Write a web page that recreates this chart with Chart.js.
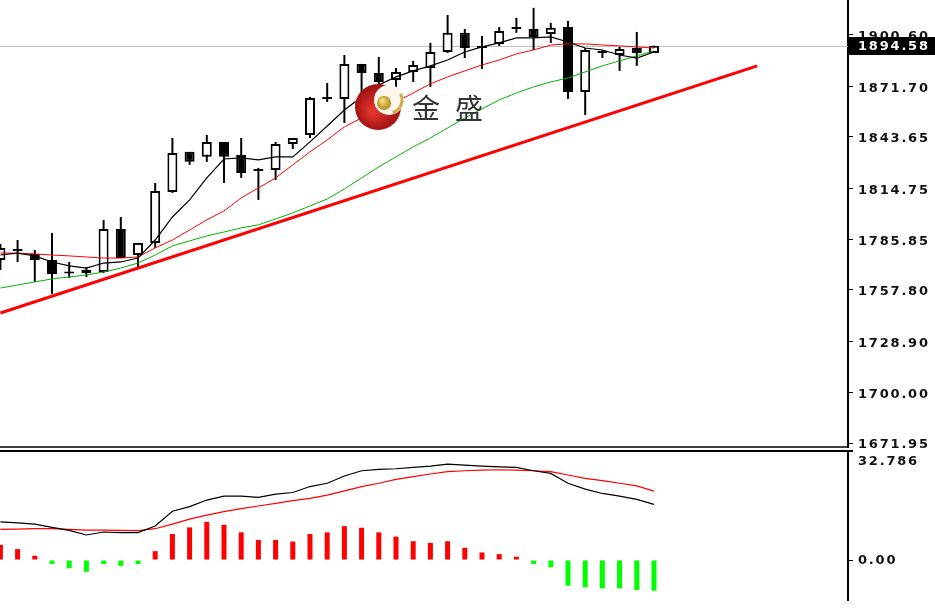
<!DOCTYPE html>
<html>
<head>
<meta charset="utf-8">
<script src="https://cdn.jsdelivr.net/npm/chart.js@4.4.1/dist/chart.umd.min.js"></script>
<style>
  html, body { margin: 0; padding: 0; background: #fff; overflow: hidden; }
  #main { position: absolute; left: 0; top: 0; }
  #sub { position: absolute; left: 0; top: 448px; }
</style>
</head>
<body>
<canvas id="main" width="935" height="448"></canvas>
<canvas id="sub" width="935" height="163"></canvas>
<script>
// daily candles, oldest first
const openP  = [1774.5,1780.1,1777.9,1774.5,1767.2,1767.2,1767.8,1791.9,1777.3,1784.1,
                1812.6,1835.1,1832.3,1840.7,1833.4,1824.4,1825.0,1839.5,1844.6,1864.8,
                1864.8,1884.4,1879.3,1875.4,1879.9,1882.1,1891.1,1901.8,1893.3,1895.6,
                1904.0,1904.0,1901.2,1905.1,1868.7,1891.7,1889.4,1893.3,1890.5];
const highP  = [1783.5,1785.7,1780.1,1789.7,1773.4,1770.6,1796.9,1798.6,1784.1,1817.7,
                1842.9,1835.1,1844.6,1840.7,1842.9,1826.1,1840.7,1842.9,1865.9,1873.7,
                1889.4,1884.4,1888.3,1882.1,1886.1,1896.2,1911.8,1904.0,1900.1,1905.1,
                1910.2,1915.8,1907.4,1908.5,1893.3,1892.2,1893.9,1902.3,1894.6];
const lowP   = [1768.9,1773.4,1762.2,1755.5,1764.4,1765.0,1767.2,1775.6,1770.0,1781.3,
                1812.1,1827.8,1829.5,1817.7,1820.5,1808.2,1819.4,1836.7,1842.9,1863.1,
                1851.3,1867.0,1871.5,1870.9,1874.3,1871.5,1890.5,1887.7,1881.6,1894.5,
                1901.8,1892.2,1896.2,1864.8,1855.8,1887.7,1880.5,1883.3,1890.5];
const closeP = [1781.3,1779.6,1774.5,1766.7,1766.9,1768.9,1791.9,1775.6,1784.1,1813.2,
                1834.5,1829.5,1840.7,1832.3,1823.3,1824.7,1839.5,1842.9,1865.3,1865.1,
                1884.4,1879.3,1874.3,1879.9,1883.8,1891.1,1901.8,1893.3,1894.5,1902.9,
                1904.2,1899.5,1904.6,1868.7,1892.2,1890.5,1892.8,1890.5,1894.58];

// moving averages
const maFast = [1777.3,1778.4,1776.8,1773.4,1771.2,1770.0,1772.8,1773.4,1775.6,1785.7,
                1798.6,1808.2,1820.5,1831.1,1831.7,1830.6,1832.3,1832.3,1840.7,1849.6,
                1858.6,1865.9,1872.6,1877.1,1880.5,1883.3,1886.6,1891.1,1893.9,1896.2,
                1899.0,1899.0,1899.5,1896.7,1893.3,1892.2,1889.4,1887.7,1891.1];
const maMid  = [1778.4,1778.4,1777.9,1777.3,1776.8,1776.2,1775.6,1775.6,1776.2,1781.3,
                1785.7,1791.3,1797.0,1802.0,1809.3,1814.9,1820.5,1827.8,1835.1,1841.8,
                1849.1,1854.1,1858.6,1863.1,1868.1,1873.2,1877.1,1880.5,1883.8,1886.6,
                1890.0,1892.2,1895.0,1895.6,1895.6,1895.0,1894.5,1893.9,1893.3];
const maSlow = [1758.8,1760.5,1762.2,1763.9,1765.0,1766.1,1767.8,1770.0,1772.8,1777.3,
                1782.4,1785.2,1788.0,1790.2,1792.5,1794.2,1797.5,1800.9,1804.8,1808.7,
                1814.3,1820.5,1826.7,1832.3,1837.9,1842.9,1848.5,1854.1,1859.2,1864.2,
                1868.1,1871.5,1874.3,1876.5,1879.9,1883.3,1886.1,1888.9,1891.7];

// trend line (bar index, price)
const trendX = [0, 44];
const trendY = [1744.8, 1883.3];

// MACD panel
const macdHist   = [4.6,3.3,1.3,-1.2,-2.5,-3.6,-1.2,-1.8,-1.2,2.7,
                    7.9,9.9,11.6,10.7,8.4,6.1,6.1,5.6,7.9,8.4,
                    10.3,9.8,8.4,7.1,5.7,5.2,5.7,3.7,2.3,1.8,
                    1.0,-1.2,-2.2,-7.8,-8.3,-8.6,-8.6,-9.1,-9.3];
const macdMain   = [11.6,11.3,10.9,9.9,9.0,7.6,8.5,8.3,8.3,10.3,
                    14.8,16.2,18.2,19.4,19.4,19.0,20.0,20.5,22.3,23.3,
                    25.5,27.1,27.5,27.7,28.1,28.5,29.1,28.8,28.5,28.3,
                    28.1,27.1,26.3,23.3,21.5,20.2,19.4,18.4,16.9];
const macdSignal = [9.3,9.4,9.5,9.5,9.3,9.1,9.1,9.0,8.9,9.5,
                    10.9,12.4,13.6,14.7,15.6,16.4,17.2,18.0,18.7,19.7,
                    21.0,22.3,23.3,24.5,25.3,26.1,26.8,27.1,27.3,27.4,
                    27.3,27.1,26.8,25.8,24.8,24.1,23.3,22.5,20.9];

const priceTicks = [1671.95, 1700.00, 1728.90, 1757.80, 1785.85, 1814.75, 1843.65, 1871.70, 1900.60];
const macdTop = 32.786;
const macdTicks = [0];
const logoChars = ['金', '盛'];

const axisFont = { family: 'DejaVu Sans', size: 13, weight: 'bold' };
const xMin = -0.023, xMax = 49.28;

const pts = arr => arr.map((v, i) => ({ x: i, y: v }));
const lastClose = closeP[closeP.length - 1];

// MT4 style labels are spaced out a bit
const spacing = {
  id: 'spacing',
  beforeDraw(chart) { chart.ctx.letterSpacing = '1.8px'; }
};

function drawLogo(ctx) {
  ctx.save();
  ctx.letterSpacing = '0px';
  let g = ctx.createRadialGradient(372, 112, 2, 378, 107, 24);
  g.addColorStop(0, '#e3342c');
  g.addColorStop(1, '#9c1010');
  ctx.fillStyle = g;
  ctx.beginPath(); ctx.arc(378, 107, 23, 0, Math.PI * 2); ctx.fill();
  ctx.fillStyle = '#fbf7ee';
  ctx.beginPath(); ctx.arc(389, 100, 15, 0, Math.PI * 2); ctx.fill();
  ctx.strokeStyle = '#cfae45'; ctx.lineWidth = 3;
  ctx.beginPath(); ctx.arc(389, 100, 13, -0.5, 1.3); ctx.stroke();
  g = ctx.createRadialGradient(382, 100, 1, 384, 103, 7);
  g.addColorStop(0, '#f4dc78');
  g.addColorStop(1, '#b38a1c');
  ctx.fillStyle = g;
  ctx.beginPath(); ctx.arc(384, 103, 7, 0, Math.PI * 2); ctx.fill();
  ctx.fillStyle = '#333';
  ctx.font = '28px "Noto Sans CJK SC"';
  ctx.textAlign = 'center';
  ctx.textBaseline = 'middle';
  ctx.fillText(logoChars[0], 426, 108);
  ctx.fillText(logoChars[1], 469, 108);
  ctx.restore();
}

const mainDecor = {
  id: 'mainDecor',
  beforeDatasetsDraw(chart) {
    const { ctx, chartArea, scales } = chart;
    const y = Math.round(scales.y.getPixelForValue(lastClose)) + 0.5;
    ctx.save();
    ctx.strokeStyle = '#c0c0c0'; ctx.lineWidth = 1;
    ctx.beginPath(); ctx.moveTo(chartArea.left, y); ctx.lineTo(chartArea.right, y); ctx.stroke();
    ctx.restore();
  },
  afterDatasetsDraw(chart) {
    drawLogo(chart.ctx);
  },
  afterDraw(chart) {
    const { ctx, chartArea, scales } = chart;
    ctx.save();
    ctx.strokeStyle = '#000'; ctx.lineWidth = 1.5;
    ctx.beginPath(); ctx.moveTo(0, chartArea.bottom); ctx.lineTo(chartArea.right, chartArea.bottom); ctx.stroke();
    const y = Math.round(scales.y.getPixelForValue(lastClose));
    ctx.fillStyle = '#000';
    ctx.fillRect(chartArea.right + 1, y - 9, 86, 18);
    ctx.fillStyle = '#fff';
    ctx.font = `bold ${axisFont.size}px "${axisFont.family}"`;
    ctx.textBaseline = 'middle';
    ctx.fillText(lastClose.toFixed(2), chartArea.right + 10, y + 1);
    ctx.restore();
  }
};

new Chart(document.getElementById('main'), {
  type: 'bar',
  data: {
    datasets: [
      { type: 'line', data: trendX.map((x, i) => ({ x, y: trendY[i] })), borderColor: '#ff0000', borderWidth: 3, pointRadius: 0, order: 0 },
      { type: 'line', data: pts(maFast), borderColor: '#000', borderWidth: 1.2, pointRadius: 0, tension: 0, order: 1 },
      { type: 'line', data: pts(maMid), borderColor: '#ff0000', borderWidth: 1, pointRadius: 0, tension: 0, order: 1 },
      { type: 'line', data: pts(maSlow), borderColor: '#00b400', borderWidth: 1, pointRadius: 0, tension: 0, order: 1 },
      {
        data: openP.map((o, i) => ({ x: i, y: [o, closeP[i]] })),
        backgroundColor: openP.map((o, i) => closeP[i] >= o ? '#fff' : '#000'),
        borderColor: '#000', borderWidth: 2, borderSkipped: false,
        maxBarThickness: 10, minBarLength: 2, grouped: false, order: 2
      },
      {
        data: lowP.map((l, i) => ({ x: i, y: [l, highP[i]] })),
        backgroundColor: '#000', maxBarThickness: 2, grouped: false, order: 3
      }
    ]
  },
  options: {
    responsive: false, animation: false, events: [],
    layout: { padding: { bottom: 1 } },
    plugins: { legend: { display: false }, tooltip: { enabled: false } },
    scales: {
      x: { type: 'linear', min: xMin, max: xMax, offset: false, display: false },
      y: {
        position: 'right', min: 1669.71, max: 1920.21,
        afterBuildTicks: s => { s.ticks = priceTicks.map(v => ({ value: v })); },
        afterFit: s => { s.width = 87; s.paddingTop = 0; s.paddingBottom = 0; },
        ticks: { callback: v => v.toFixed(2), color: '#111', font: axisFont, padding: 5, autoSkip: false, labelOffset: 2 },
        grid: { drawOnChartArea: false, tickLength: 5, tickColor: '#000' },
        border: { color: '#000', width: 2 }
      }
    }
  },
  plugins: [spacing, mainDecor]
});

const subDecor = {
  id: 'subDecor',
  afterDraw(chart) {
    const { ctx, chartArea } = chart;
    ctx.save();
    ctx.strokeStyle = '#000'; ctx.lineWidth = 2;
    ctx.beginPath(); ctx.moveTo(0, chartArea.top - 1); ctx.lineTo(chartArea.right + 5, chartArea.top - 1); ctx.stroke();
    ctx.fillStyle = '#111';
    ctx.font = `bold ${axisFont.size}px "${axisFont.family}"`;
    ctx.textBaseline = 'middle';
    ctx.fillText(macdTop.toFixed(3), chartArea.right + 10, chartArea.top + 10);
    ctx.restore();
  }
};

new Chart(document.getElementById('sub'), {
  type: 'bar',
  data: {
    datasets: [
      { type: 'line', data: pts(macdMain), borderColor: '#000', borderWidth: 1.2, pointRadius: 0, tension: 0, order: 0 },
      { type: 'line', data: pts(macdSignal), borderColor: '#ff0000', borderWidth: 1.2, pointRadius: 0, tension: 0, order: 0 },
      {
        data: pts(macdHist),
        backgroundColor: macdHist.map(v => v >= 0 ? '#ff0000' : '#00ff00'),
        maxBarThickness: 5, grouped: false, order: 1
      }
    ]
  },
  options: {
    responsive: false, animation: false, events: [],
    layout: { padding: { top: 4, bottom: 11 } },
    plugins: { legend: { display: false }, tooltip: { enabled: false } },
    scales: {
      x: { type: 'linear', min: xMin, max: xMax, offset: false, display: false },
      y: {
        position: 'right', min: -12.14, max: macdTop,
        afterBuildTicks: s => { s.ticks = macdTicks.map(v => ({ value: v })); },
        afterFit: s => { s.width = 87; s.paddingTop = 0; s.paddingBottom = 0; },
        ticks: { callback: v => v.toFixed(2), color: '#111', font: axisFont, padding: 5, labelOffset: 1 },
        grid: { drawOnChartArea: false, tickLength: 5, tickColor: '#000' },
        border: { color: '#000', width: 2 }
      }
    }
  },
  plugins: [spacing, subDecor]
});
</script>
</body>
</html>
